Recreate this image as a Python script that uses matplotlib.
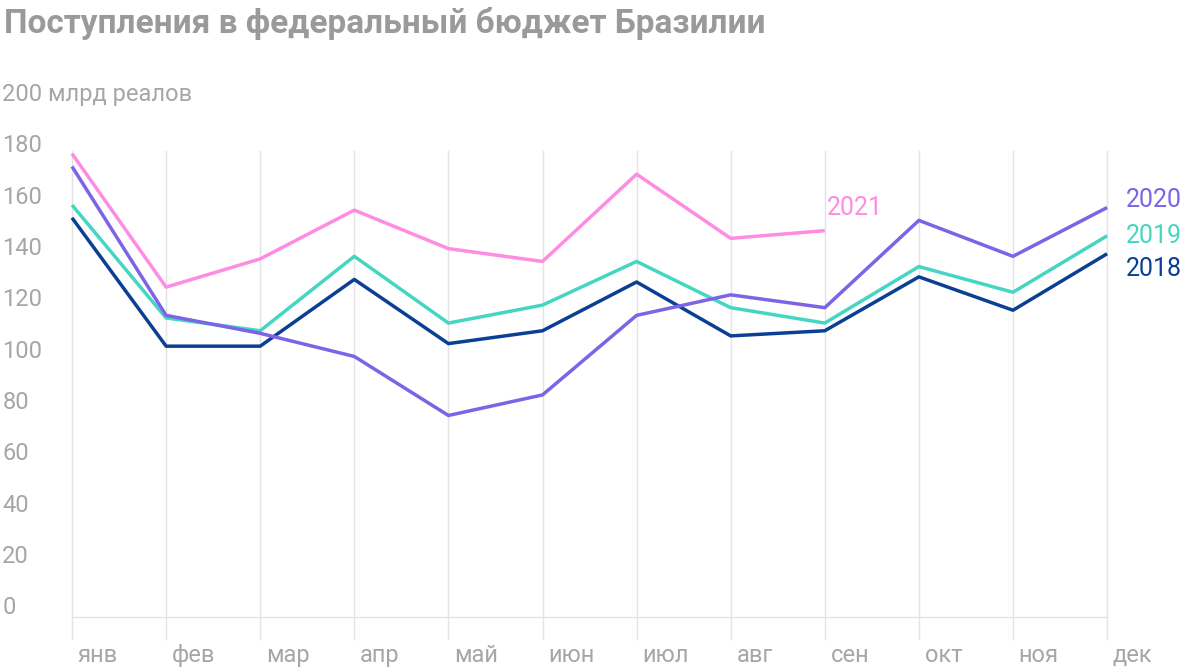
import matplotlib.pyplot as plt

plt.rcParams["font.family"] = "Roboto"

months = ["янв", "фев", "мар", "апр", "май", "июн", "июл", "авг", "сен", "окт", "ноя", "дек"]
y_ticks = [0, 20, 40, 60, 80, 100, 120, 140, 160, 180]
v2021 = [177, 125, 136, 155, 140, 135, 169, 144, 147]
v2020 = [172, 114, 107, 98, 75, 83, 114, 122, 117, 151, 137, 156]
v2019 = [157, 113, 108, 137, 111, 118, 135, 117, 111, 133, 123, 145]
v2018 = [152, 102, 102, 128, 103, 108, 127, 106, 108, 129, 116, 138]

# pixel mapping: x0=72px, step 94.1px; y0=608px, 2.567px per unit
fig = plt.figure(figsize=(12, 6.72), dpi=100)
ax = fig.add_axes([0, 0, 1, 1])
ax.set_xlim(-72 / 94.1, (1200 - 72) / 94.1)
ax.set_ylim(-64 / 2.567, 608 / 2.567)
ax.axis("off")

grey = "#a6a6a6"
for i, m in enumerate(months):
    ax.plot([i, i], [-12, 178], color="#e3e3e3", lw=1, zorder=1)
    ax.text(i + 0.06, -18.5, m, fontsize=17, color=grey, ha="left", va="center")
ax.plot([0, 11], [-3.5, -3.5], color="#e3e3e3", lw=1, zorder=1)
for t in y_ticks:
    ax.text(-0.74, t, str(t), fontsize=17, color=grey, ha="left", va="center")
ax.text(-0.74, 200, "200 млрд реалов", fontsize=17, color=grey, ha="left", va="center")

series = [
    ("2018", v2018, "#0b3f94"),
    ("2019", v2019, "#45d6c3"),
    ("2020", v2020, "#7d63e6"),
    ("2021", v2021, "#ff8ce3"),
]
for name, vals, col in series:
    ax.plot(range(len(vals)), vals, color=col, lw=2.5, zorder=3, solid_capstyle="butt")

ax.text(11.2, 159, "2020", fontsize=18, color="#7d63e6", ha="left", va="center")
ax.text(11.2, 145, "2019", fontsize=18, color="#45d6c3", ha="left", va="center")
ax.text(11.2, 132, "2018", fontsize=18, color="#0b3f94", ha="left", va="center")
ax.text(8.02, 156, "2021", fontsize=18, color="#ff8ce3", ha="left", va="center")

fig.text(0.003, 0.965, "Поступления в федеральный бюджет Бразилии", fontsize=24,
         fontweight="bold", color="#9a9a9a", ha="left", va="center")

fig.savefig("out.png", dpi=100)
